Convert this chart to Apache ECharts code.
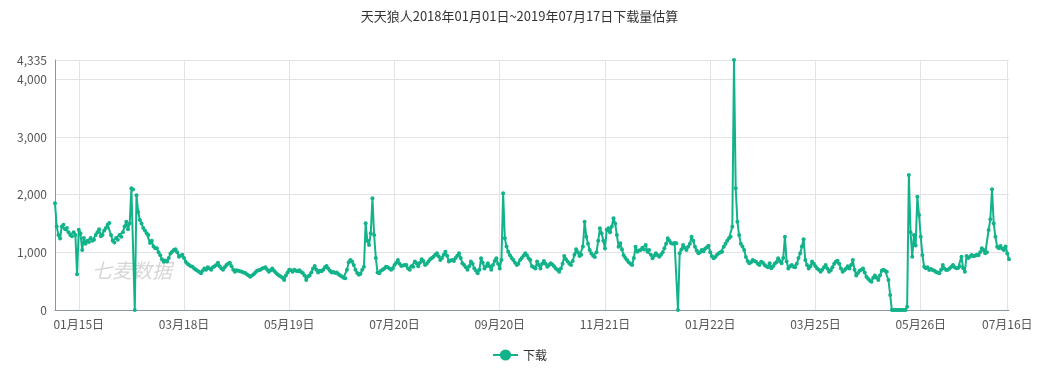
<!DOCTYPE html>
<html>
<head>
<meta charset="utf-8">
<script src="https://cdn.jsdelivr.net/npm/echarts@6/dist/echarts.min.js"></script>
<style>html,body{margin:0;padding:0;background:#fff;}#main{width:1039px;height:370px;}</style>
</head>
<body>
<div id="main"></div>
<script>
var titleText = '天天狼人2018年01月01日~2019年07月17日下载量估算';
var seriesName = '下载';
var startDate = [2018, 1, 1];
var labelIndices = [14, 76, 138, 200, 262, 324, 386, 448, 510, 561];
var yTicks = [0, 1000, 2000, 3000, 4000, 4335];
var downloads = [
1850,1450,1300,1240,1450,1480,1400,1420,1350,1300,
1280,1350,1300,620,1390,1330,1040,1250,1150,1200,
1180,1250,1200,1220,1300,1350,1400,1280,1300,1380,
1420,1480,1510,1300,1200,1170,1250,1220,1300,1270,
1350,1450,1530,1400,1500,2110,2090,0,1990,1700,
1560,1500,1420,1380,1330,1300,1160,1200,1100,1070,
1070,1000,950,880,838,860,840,900,980,1011,
1040,1052,1000,925,940,960,900,838,800,780,
760,751,720,700,680,660,636,680,720,700,
740,720,700,740,760,780,820,760,720,700,
740,780,800,820,760,700,665,690,680,670,
665,650,640,620,600,578,600,620,650,680,
690,700,720,730,740,700,665,690,720,680,
650,620,600,580,560,520,600,650,700,690,
665,700,680,670,690,660,640,600,520,580,
600,650,720,763,700,650,680,670,700,740,
763,720,680,650,660,640,650,620,600,580,
560,550,700,830,867,840,780,700,640,610,
630,700,750,1503,1200,1127,1330,1936,1300,900,
650,636,680,700,720,750,740,720,700,720,
780,820,867,800,763,770,780,780,720,700,
760,750,840,810,760,820,878,850,780,800,
840,880,900,925,960,983,930,867,900,960,
1011,940,840,860,867,850,900,940,983,900,
810,780,740,700,760,840,800,720,680,636,
700,896,820,720,760,810,760,700,780,850,
896,800,720,867,2023,1243,1100,1011,950,900,
867,820,780,800,867,900,940,983,950,896,
867,760,740,720,840,780,720,800,850,800,
750,780,810,790,760,720,700,665,720,800,
936,880,840,800,780,850,960,1052,1000,936,
960,1100,1532,1271,1150,1040,980,940,920,1000,
1200,1416,1330,1200,1068,1390,1416,1350,1450,1590,
1500,1300,1098,1156,1050,949,900,867,830,800,
780,900,1098,1011,1030,1040,1080,1050,1127,1011,
1040,960,896,940,982,950,925,960,1000,1069,
1150,1243,1200,1156,1150,1160,1156,0,982,1050,
1127,1080,1040,1098,1150,1271,1200,1098,1030,982,
1000,1040,1020,1060,1090,1115,1000,930,896,920,
960,982,1000,1011,1098,1150,1200,1243,1271,1445,
4335,2110,1532,1300,1150,1100,1040,920,850,809,
830,867,850,838,800,780,838,820,780,760,
740,810,722,760,800,830,896,850,810,900,
1271,840,720,760,780,750,740,800,900,983,
1100,1225,867,780,720,760,840,800,760,720,
700,665,700,740,780,720,665,690,740,800,
840,855,800,720,665,690,720,760,720,780,
867,700,600,640,680,700,720,650,578,540,
510,491,560,600,560,520,600,680,700,680,
665,520,260,0,0,0,0,0,0,0,
0,0,57,2341,1350,925,1300,1120,1965,1647,
1271,954,751,722,740,693,710,693,680,660,
650,636,700,780,720,693,700,720,750,780,
740,722,730,760,925,722,665,937,900,925,
954,930,940,960,950,1000,1069,1040,983,1000,
1387,1572,2093,1500,1271,1098,1069,1110,1060,1040,
1100,980,878
];

function pad(n){ return n < 10 ? '0' + n : '' + n; }
var categories = [];
(function(){
  var d = new Date(Date.UTC(startDate[0], startDate[1]-1, startDate[2]));
  for (var i = 0; i < downloads.length; i++) {
    var t = new Date(d.getTime() + i * 86400000);
    categories.push(t.getUTCFullYear() + '-' + pad(t.getUTCMonth()+1) + '-' + pad(t.getUTCDate()));
  }
})();

var labelSet = {};
labelIndices.forEach(function(i){ labelSet[i] = true; });
var showAt = function(idx){ return !!labelSet[idx]; };
var green = '#12b38a';
var fontFam = '"Noto Sans CJK SC", "Noto Sans", sans-serif';

var chart = echarts.init(document.getElementById('main'), null, {renderer: 'canvas'});
chart.setOption({
  animation: false,
  title: {
    text: titleText, left: 'center', top: 5,
    textStyle: {fontSize: 13, fontWeight: 'normal', color: '#333', fontFamily: fontFam}
  },
  legend: {
    bottom: 4, left: 'center', data: [seriesName],
    itemWidth: 25, itemHeight: 14,
    textStyle: {fontSize: 12, color: '#333', fontFamily: fontFam}
  },
  grid: {left: 55, right: 30, top: 60, bottom: 60},
  graphic: [{
    type: 'text', left: 92, top: 260, z: 0,
    style: {text: '七麦数据', fill: 'rgba(180,180,180,0.55)', font: 'italic 20px "Noto Sans CJK SC"'}
  }],
  xAxis: {
    type: 'category', data: categories, boundaryGap: false,
    axisLine: {lineStyle: {color: '#8a96a3'}},
    axisTick: {show: false},
    axisLabel: {
      interval: function(idx){ return showAt(idx); },
      color: '#555', fontSize: 12, fontFamily: fontFam,
      formatter: function(v){ var p = v.split('-'); return p[1] + '月' + p[2] + '日'; }
    },
    splitLine: {show: true, interval: function(idx){ return showAt(idx); }, lineStyle: {color: '#e3e3e3'}}
  },
  yAxis: {
    type: 'value', min: yTicks[0], max: yTicks[yTicks.length-1], interval: 1000,
    axisLine: {show: true, lineStyle: {color: '#8a96a3'}},
    axisTick: {show: false},
    axisLabel: {
      color: '#555', fontSize: 12, fontFamily: fontFam, showMaxLabel: true,
      formatter: function(v){ return v.toString().replace(/\B(?=(\d{3})+(?!\d))/g, ','); }
    },
    splitLine: {lineStyle: {color: '#e3e3e3'}}
  },
  series: [{
    name: seriesName, type: 'line', data: downloads,
    showAllSymbol: true, symbol: 'circle', symbolSize: 4,
    itemStyle: {color: green},
    lineStyle: {color: green, width: 2}
  }]
});
</script>
</body>
</html>
